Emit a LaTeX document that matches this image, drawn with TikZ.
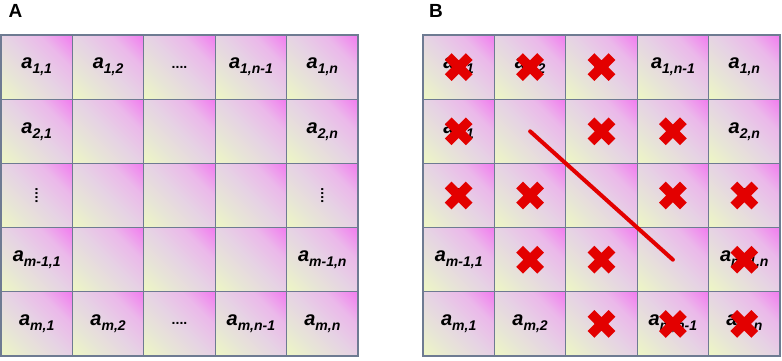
\documentclass[tikz,border=0pt]{standalone}
\usepackage{fontspec}
\setmainfont{Liberation Sans}
\usepackage{graphicx}
\definecolor{gl}{HTML}{EEF7C4}
\definecolor{glm}{HTML}{E7E5D6}
\definecolor{gm}{HTML}{E6D2E4}
\definecolor{gp}{HTML}{EBB8EA}
\definecolor{gr}{HTML}{F27CF0}
\definecolor{bord}{HTML}{6E7B92}
\definecolor{xred}{HTML}{E30000}
\pgfdeclarehorizontalshading{cellshade}{100bp}{color(0bp)=(gl); color(15bp)=(gl); color(32bp)=(glm); color(50bp)=(gm); color(68bp)=(gp); color(85bp)=(gr); color(100bp)=(gr)}
\newcommand\mel[1]{{\fontsize{20}{22}\selectfont\bfseries\itshape a}\raisebox{-5pt}{\fontsize{14}{16}\selectfont\bfseries\itshape #1}}
\newcommand\mdots{{\fontsize{14}{16}\selectfont\bfseries ....}}
\newcommand\mvdots{\rotatebox{90}{\mdots}}
\tikzset{
  cell/.style={draw=bord, line width=1.1pt, shading=cellshade, shading angle=45,
    minimum width=71.4pt, minimum height=64.2pt, inner sep=0pt, outer sep=0pt},
  lab/.style={font=\fontsize{19}{21}\selectfont\bfseries, inner sep=0pt},
  xcross/.pic={\draw[xred, line width=9.5pt] (-10.5,-10.5) -- (10.5,10.5) (-10.5,10.5) -- (10.5,-10.5);},
  redline/.style={xred, line width=4pt, line cap=round}
}
\begin{document}
\begin{tikzpicture}[x=1pt,y=-1pt]
\useasboundingbox (0,0) rectangle (782,360);
\foreach \p/\x in {a/1, b/423} {
  \foreach \r/\c/\t in {
    1/1/{\mel{1,1}}, 1/2/{\mel{1,2}}, 1/3/{\mdots}, 1/4/{\mel{1,n-1}}, 1/5/{\mel{1,n}},
    2/1/{\mel{2,1}}, 2/2/{\relax}, 2/3/{\relax}, 2/4/{\relax}, 2/5/{\mel{2,n}},
    3/1/{\mvdots}, 3/2/{\relax}, 3/3/{\relax}, 3/4/{\relax}, 3/5/{\mvdots},
    4/1/{\mel{m-1,1}}, 4/2/{\relax}, 4/3/{\relax}, 4/4/{\relax}, 4/5/{\mel{m-1,n}},
    5/1/{\mel{m,1}}, 5/2/{\mel{m,2}}, 5/3/{\mdots}, 5/4/{\mel{m,n-1}}, 5/5/{\mel{m,n}}} {
    \node[cell] (\p-\r-\c) at ({\x+(\c-0.5)*71.4}, {35+(\r-0.5)*64.2}) {\t};
  }
}
\node[lab] (labA) at (15.5,10.5) {A};
\node[lab] (labB) at (436,10.5) {B};
\foreach \r/\c in {1/1,1/2,1/3,2/1,2/3,2/4,3/1,3/2,3/4,3/5,4/2,4/3,4/5,5/3,5/4,5/5}
  \pic at (b-\r-\c.center) {xcross};
\draw[redline] (b-2-2.center) -- (b-4-4.center);
\end{tikzpicture}
\end{document}
